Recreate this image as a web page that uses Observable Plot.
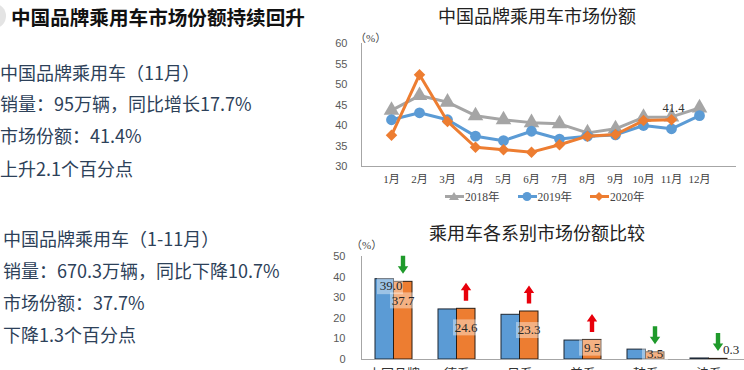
<!DOCTYPE html>
<html><head><meta charset="utf-8">
<script src="https://cdn.jsdelivr.net/npm/d3@7"></script>
<script src="https://cdn.jsdelivr.net/npm/@observablehq/plot@0.6"></script>
<style>
body{margin:0;background:#fff;}
#root{position:relative;width:744px;height:370px;overflow:hidden;font-family:"Noto Sans CJK SC",sans-serif;}
.abs{position:absolute;white-space:nowrap;}
.blob{position:absolute;left:-16px;top:4px;width:22px;height:24px;border-radius:50%;background:#e4e4e4;}
.mainTitle{left:11px;top:4px;font-size:19.6px;font-weight:700;color:#111;line-height:26px;}
.line{font-size:18px;color:#2d4159;line-height:24px;}
.ctitle{font-size:18px;color:#222;line-height:22px;width:414px;text-align:center;left:330px;}
.pct{font-family:"Liberation Serif","Noto Sans CJK SC",serif;font-size:11px;color:#444;}
.legend{left:445px;top:188px;display:flex;align-items:center;font-family:"Liberation Serif","Noto Sans CJK SC",serif;font-size:11.5px;color:#444;}
.legend .item{display:flex;align-items:center;margin-right:18px;}
.legend svg{margin-right:1px;}
g[aria-label="bar-label"] text, g[aria-label="point-label"] text{letter-spacing:1.5px;}
</style></head><body>
<div id="root"></div>
<script>
// ---------- data ----------
const months = ["1月","2月","3月","4月","5月","6月","7月","8月","9月","10月","11月","12月"];
const years = ["2018年","2019年","2020年"];
const share2018 = [43.7,47.3,45.7,42.4,41.4,40.7,40.4,38.2,39.2,42.0,42.1,44.3];
const share2019 = [41.4,43.1,41.4,37.4,36.3,38.6,36.7,37.4,37.7,40.0,39.2,42.4];
const share2020 = [37.6,52.4,41.0,34.7,34.1,33.5,35.3,37.4,37.8,41.2,41.4];
const lineTicks = [30,35,40,45,50,55,60];

const categories = ["中国品牌","德系","日系","美系","韩系","法系"];
const catShare2019 = [39.0,24.3,21.7,9.2,4.8,0.5];
const catShare2020 = [37.7,24.6,23.3,9.5,3.5,0.3];
const catTrend = ["down","up","up","up","down","down"];
const barTicks = [0,10,20,30,40,50];

const leftLines1 = ["中国品牌乘用车（11月）","销量：95万辆，同比增长17.7%","市场份额：41.4%","上升2.1个百分点"];
const leftLines2 = ["中国品牌乘用车（1-11月）","销量：670.3万辆，同比下降10.7%","市场份额：37.7%","下降1.3个百分点"];

// ---------- layout helpers ----------
const root = document.getElementById("root");
function addDiv(cls, text, left, topPx, extra){
  const d = document.createElement("div");
  d.className = "abs " + cls;
  d.textContent = text;
  if (left != null) d.style.left = left + "px";
  d.style.top = topPx + "px";
  if (extra) Object.assign(d.style, extra);
  root.appendChild(d);
  return d;
}
const blob = document.createElement("div"); blob.className = "blob"; root.appendChild(blob);
addDiv("mainTitle", "中国品牌乘用车市场份额持续回升", 11, 4);
const ys1 = [72,103,135,168], ys2 = [238,270,302,334];
leftLines1.forEach((t,i)=>addDiv("line", t, 0, ys1[i]-12));
leftLines2.forEach((t,i)=>addDiv("line", t, 3, ys2[i]-12));

addDiv("ctitle", "中国品牌乘用车市场份额", null, 4);
addDiv("ctitle", "乘用车各系别市场份额比较", null, 221);
addDiv("pct", "（%）", 355, 29);
addDiv("pct", "（%）", 351, 236);

const COLORS = {gray:"#a5a5a5", blue:"#5b9bd5", orange:"#ed7d31"};
const axisColor = "#a6a6a6";
const tickFont = "Liberation Sans, Arial, sans-serif";

// ---------- top line chart ----------
const rows18 = months.map((m,i)=>({m, v:share2018[i]}));
const rows19 = months.map((m,i)=>({m, v:share2019[i]}));
const rows20 = share2020.map((v,i)=>({m:months[i], v}));

const topChart = Plot.plot({
  width:414, height:162,
  marginTop:15, marginBottom:24, marginLeft:31, marginRight:9,
  style:{fontFamily:"Liberation Serif, Noto Sans CJK SC, serif", fontSize:"11px", color:"#404040", background:"transparent"},
  x:{type:"point", domain:months, range:[47,383], axis:null, label:null},
  y:{domain:[30,60], axis:null, label:null},
  marks:[
    Plot.axisY(lineTicks, {tickSize:0, tickPadding:14, fontFamily:tickFont, fontSize:11, fill:"#595959", label:null}),
    Plot.axisX(months, {tickSize:0, tickPadding:9, fontSize:11, fill:"#404040", label:null}),
    Plot.frame({anchor:"left", stroke:axisColor}),
    Plot.frame({anchor:"bottom", stroke:axisColor}),
    Plot.line(rows18, {x:"m", y:"v", stroke:COLORS.gray, strokeWidth:3}),
    Plot.dot(rows18, {x:"m", y:"v", symbol:"triangle", r:5.8, fill:COLORS.gray}),
    Plot.line(rows19, {x:"m", y:"v", stroke:COLORS.blue, strokeWidth:3}),
    Plot.dot(rows19, {x:"m", y:"v", symbol:"circle", r:5.4, fill:COLORS.blue}),
    Plot.line(rows20, {x:"m", y:"v", stroke:COLORS.orange, strokeWidth:3}),
    Plot.dot(rows20, {x:"m", y:"v", symbol:"diamond2", r:5.2, fill:COLORS.orange}),
    Plot.text(rows20.slice(-1), {x:"m", y:"v", text:d=>d.v.toFixed(1), dy:-12, dx:2, fontSize:12.5, fill:"#333", ariaLabel:"point-label"})
  ]
});
topChart.style.position = "absolute"; topChart.style.left = "330px"; topChart.style.top = "28px";
root.appendChild(topChart);

// legend
const leg = document.createElement("div"); leg.className = "abs legend";
const legSym = [
  `<polygon points="9,1 14,9 4,9" fill="${COLORS.gray}"/>`,
  `<circle cx="9" cy="5.5" r="4.5" fill="${COLORS.blue}"/>`,
  `<polygon points="9,1 13.5,5.5 9,10 4.5,5.5" fill="${COLORS.orange}"/>`
];
const legCol = [COLORS.gray, COLORS.blue, COLORS.orange];
years.forEach((y,i)=>{
  const it = document.createElement("div"); it.className = "item";
  it.innerHTML = `<svg width="19" height="11"><line x1="0" x2="19" y1="5.5" y2="5.5" stroke="${legCol[i]}" stroke-width="3"/>${legSym[i]}</svg><span>${y}</span>`;
  leg.appendChild(it);
});
root.appendChild(leg);

// ---------- bottom bar chart ----------
const catRows = categories.map((c,i)=>({c, a:catShare2019[i], b:catShare2020[i], t:catTrend[i]}));
const arrowSym = dir => ({draw(ctx, size){
  const r = Math.sqrt(size/Math.PI);
  const H = 0.9*r, sw = 0.22*r, hw = 0.52*r, hy = 0.15*r;
  const s = dir === "down" ? 1 : -1;
  ctx.moveTo(-sw, -H*s); ctx.lineTo(sw, -H*s); ctx.lineTo(sw, hy*s); ctx.lineTo(hw, hy*s);
  ctx.lineTo(0, H*s); ctx.lineTo(-hw, hy*s); ctx.lineTo(-sw, hy*s); ctx.closePath();
}});
const boxSym = {draw(ctx, size){ const r = Math.sqrt(size/Math.PI); ctx.rect(-1.3*r, -0.8*r, 2.6*r, 1.6*r); }};
const labelY = d => Math.max(d.b - 9, d.b/2 + 1);
const mainLabels = catRows.slice(0,5), lastLabel = catRows.slice(5);

const bottomChart = Plot.plot({
  width:414, height:140,
  marginTop:14, marginBottom:23, marginLeft:31, marginRight:0,
  style:{fontFamily:"Liberation Serif, Noto Sans CJK SC, serif", fontSize:"13px", color:"#404040", background:"transparent"},
  x:{type:"band", domain:categories, range:[31,411], paddingInner:0.42, paddingOuter:0.2, axis:null, label:null},
  y:{domain:[0,50], axis:null, label:null},
  marks:[
    Plot.axisY(barTicks, {tickSize:0, tickPadding:16, fontFamily:tickFont, fontSize:11, fill:"#595959", label:null}),
    Plot.axisX(categories, {tickSize:0, tickPadding:9, fontSize:13, fontFamily:"Noto Sans CJK SC, sans-serif", fill:"#333", label:null}),
    Plot.frame({anchor:"left", stroke:axisColor}),
    Plot.barY(catRows, {x:"c", y:"a", fill:COLORS.blue, stroke:"#1d2733", strokeWidth:1, insetRight:18.5}),
    Plot.barY(catRows, {x:"c", y:"b", fill:COLORS.orange, stroke:"#2a1c12", strokeWidth:1, insetLeft:18.5}),
    Plot.ruleY([0], {stroke:axisColor}),
    Plot.dot(catRows.slice(0,1), {x:"c", y:"a", dy:7, dx:-4, symbol:boxSym, r:10, fill:"white", fillOpacity:0.4, stroke:"none"}),
    Plot.dot(mainLabels, {x:"c", y:labelY, dx:9, symbol:boxSym, r:10, fill:"white", fillOpacity:0.4, stroke:"none"}),
    Plot.text(catRows.slice(0,1), {x:"c", y:"a", text:d=>d.a.toFixed(1), dy:7, dx:-3, fontSize:13, fill:"#262626", ariaLabel:"bar-label"}),
    Plot.text(mainLabels, {x:"c", y:labelY, text:d=>d.b.toFixed(1), dx:9, fontSize:13, fill:"#262626", ariaLabel:"bar-label"}),
    Plot.text(lastLabel, {x:"c", y:labelY, text:d=>d.b.toFixed(1), dx:22, dy:-7, fontSize:13, fill:"#262626", ariaLabel:"bar-label"}),
    Plot.dot(catRows.filter(d=>d.t==="down"), {x:"c", y:"b", dx:9, dy:-17, symbol:arrowSym("down"), r:10, fill:"#1f9a2b", stroke:"none"}),
    Plot.dot(catRows.filter(d=>d.t==="up"), {x:"c", y:"b", dx:9, dy:-17, symbol:arrowSym("up"), r:10, fill:"#e8000b", stroke:"none"})
  ]
});
bottomChart.style.position = "absolute"; bottomChart.style.left = "330px"; bottomChart.style.top = "242px";
root.appendChild(bottomChart);
</script>
</body></html>
